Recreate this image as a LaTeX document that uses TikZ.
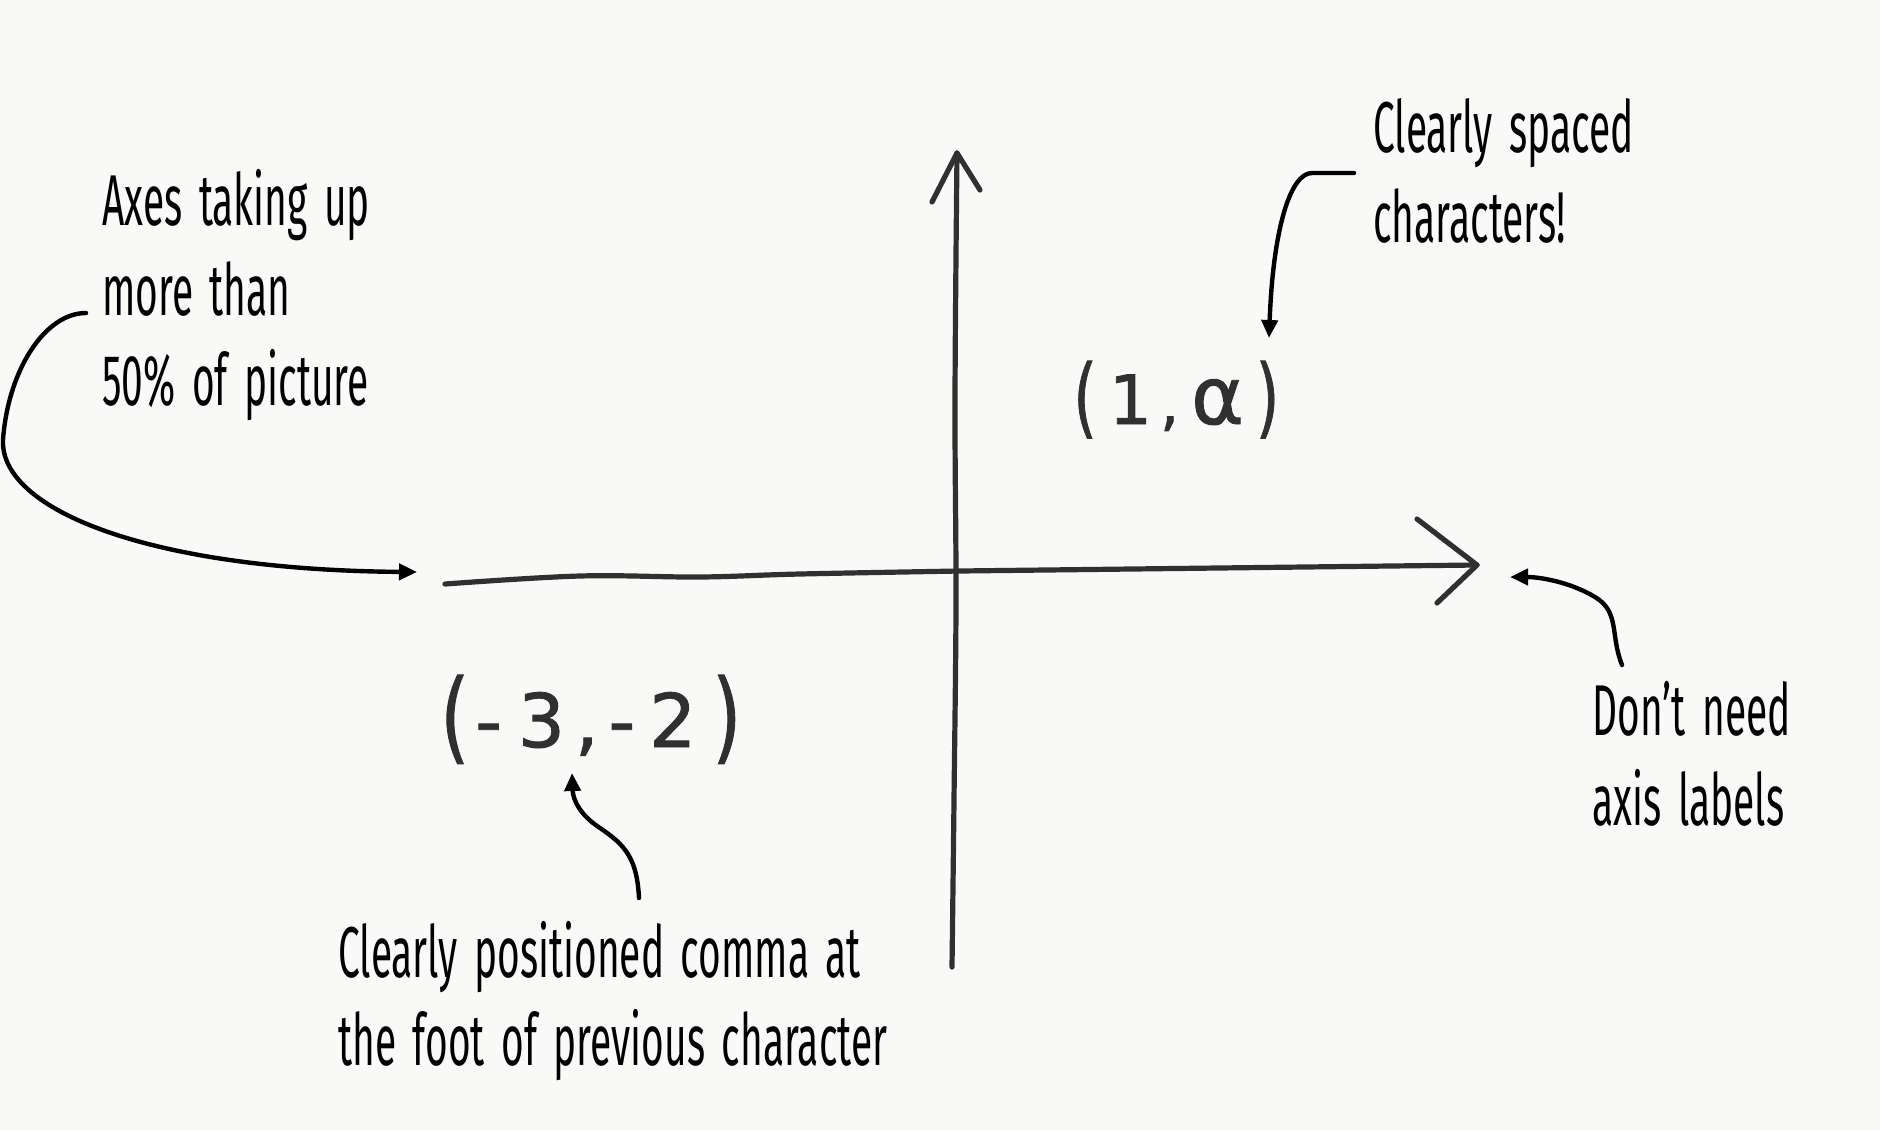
\documentclass[tikz,border=0pt]{standalone}
\usepackage{fontspec}
\usepackage{graphicx}
\setmainfont[FakeStretch=0.54,WordSpace=1.6]{Fira Sans}
\newfontfamily\handfont[FakeBold=1.2]{DejaVu Sans}
\usetikzlibrary{arrows.meta}
\definecolor{paper}{RGB}{249,249,248}
\definecolor{pencil}{RGB}{48,48,48}
\tikzset{
  note/.style={font=\fontsize{36}{45}\selectfont, align=left, inner sep=0pt, anchor=base west, text=black},
  callout/.style={draw=black, line width=2.2pt, line cap=round, -{Triangle[length=9pt,width=8pt]}},
  axisline/.style={draw=pencil, line width=2.6pt, line cap=round, line join=round},
  handlabel/.style={inner sep=0pt, anchor=base west, text=pencil},
}
\newcommand{\tallparen}[2]{\raisebox{-0.05em}{\scalebox{1}[#1]{#2}}}
\begin{document}
\begin{tikzpicture}[x=0.5pt,y=-0.5pt]
\fill[paper] (0,0) rectangle (1880,1130);
\useasboundingbox (0,0) rectangle (1880,1130);

% axes
\coordinate (hL) at (445,584);
\coordinate (O) at (960,571);
\coordinate (hR) at (1477,565);
\coordinate (hA1) at (1417,519);
\coordinate (hA2) at (1437,603);
\coordinate (vB) at (952,967);
\coordinate (vT) at (957,153);
\coordinate (vA1) at (932,202);
\coordinate (vA2) at (980,190);
\draw[axisline] plot[smooth, tension=0.6] coordinates {(hL) (580,576) (700,577) (800,574) (O)} -- (hR);
\draw[axisline] (hA1) -- (hR) -- (hA2);
\draw[axisline] plot[smooth, tension=0.6] coordinates {(vB) (954,800) (956,600) (955,400) (vT)};
\draw[axisline] (vA1) -- (vT) -- (vA2);

% hand-written coordinates
\node[handlabel, font=\handfont\fontsize{37}{40}\selectfont] (pA) at (440,747)
  {\tallparen{1.35}{(}\hspace{3pt}-\hspace{8pt}3\hspace{5pt},\hspace{5pt}-\hspace{7pt}2\hspace{8pt}\tallparen{1.35}{)}};
\node[handlabel, font=\handfont\fontsize{30}{34}\selectfont] (pB) at (1073,424)
  {\tallparen{1.45}{(}\hspace{6pt}{\fontsize{34}{34}\selectfont 1}\hspace{4pt},\hspace{6pt}{\fontsize{40}{40}\selectfont α}\hspace{6pt}\tallparen{1.45}{)}};

% notes (anchored at the baseline of the last line)
\node[note] (n1) at (102,405) {Axes taking up\\more than\\50\% of picture};
\node[note] (n2) at (1373,242) {Clearly spaced\\characters!};
\node[note] (n3) at (1592,825) {Don't need\\axis labels};
\node[note, font=\fontsize{36}{44}\selectfont] (n4) at (338,1065) {Clearly positioned comma at\\the foot of previous character};

% callouts
\coordinate (c1s) at (86,313);
\coordinate (c1e) at (417,572);
\coordinate (c2s) at (1354,173);
\coordinate (c2e) at (1269,338);
\coordinate (c3s) at (1622,665);
\coordinate (c3e) at (1510,577);
\coordinate (c4s) at (639,898);
\coordinate (c4e) at (572,773);
\draw[callout] (c1s) .. controls (45,313) and (8,370) .. (3,440) .. controls (0,510) and (150,570) .. (c1e);
\draw[callout] (c2s) -- (1312,173) .. controls (1290,173) and (1273,230) .. (c2e);
\draw[callout] (c3s) .. controls (1610,635) and (1620,612) .. (1595,597) .. controls (1570,582) and (1540,577) .. (c3e);
\draw[callout] (c4s) .. controls (637,858) and (625,845) .. (600,828) .. controls (580,815) and (573,800) .. (c4e);
\end{tikzpicture}
\end{document}
